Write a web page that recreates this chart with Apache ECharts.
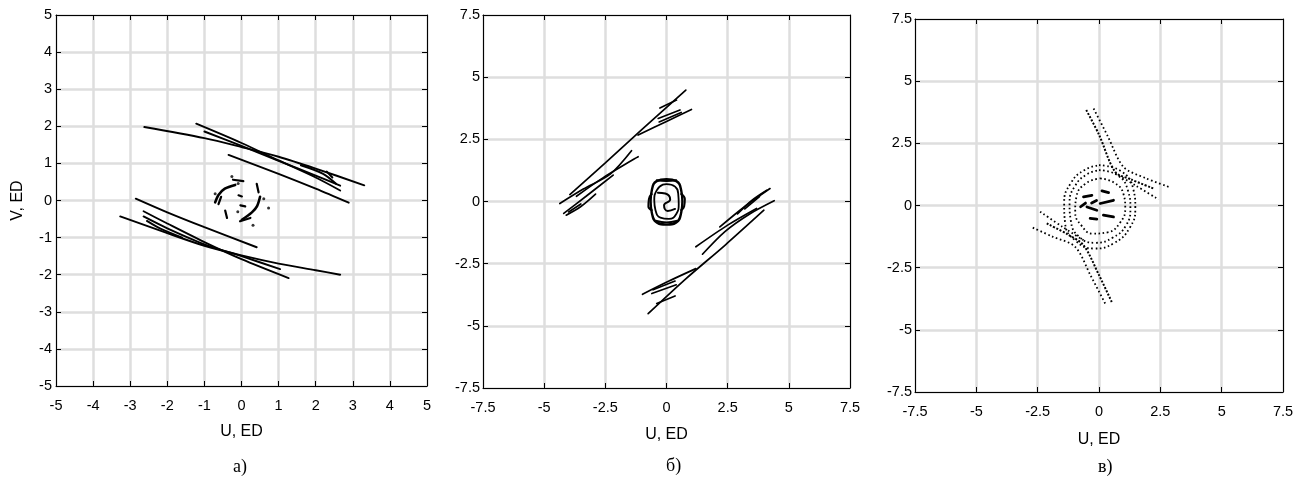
<!DOCTYPE html>
<html><head><meta charset="utf-8">
<script src="https://cdn.jsdelivr.net/npm/echarts@6/dist/echarts.min.js"></script>
<style>html,body{margin:0;padding:0;background:#fff}#c{width:1310px;height:481px}</style>
</head><body><div id="c"></div>
<script>
// ---------- Panel а) ----------
const aTicks = [-5,-4,-3,-2,-1,0,1,2,3,4,5];
const aUp1 = [[-2.62,1.98],[-1.0,1.68],[0,1.44],[1.0,1.18],[2.0,0.86],[3.31,0.41]];
const aUp2 = [[-1.22,2.07],[0,1.55],[1.0,1.08],[2.0,0.62],[2.66,0.27]];
const aUp3 = [[-1.0,1.86],[0,1.47],[1.0,1.07],[2.0,0.67],[2.66,0.40]];
const aUp4 = [[-0.35,1.23],[1.0,0.72],[2.0,0.32],[2.89,-0.06]];
const aUp5 = [[1.6,0.95],[2.2,0.72],[2.55,0.45]];
const aUp6 = [[2.3,0.78],[2.45,0.62]];
const aLo1 = [[-2.85,0.05],[-2.0,-0.32],[-1.0,-0.72],[0.41,-1.26]];
const aLo2 = [[-3.27,-0.43],[-2.0,-0.88],[-1.0,-1.22],[0,-1.48],[1.0,-1.70],[2.0,-1.88],[2.66,-2.0]];
const aLo3 = [[-2.64,-0.29],[-2.0,-0.62],[-1.0,-1.12],[0,-1.58],[1.27,-2.09]];
const aLo4 = [[-2.64,-0.43],[-2.0,-0.75],[-1.0,-1.18],[0,-1.5],[1.04,-1.85]];
const aLo5 = [[-2.55,-0.55],[-2.2,-0.75],[-1.6,-1.0]];
const aSw1 = [[-0.71,-0.05],[-0.62,0.15],[-0.45,0.32],[-0.17,0.42]];
const aSw2 = [[0.50,0.10],[0.42,-0.15],[0.28,-0.32],[0.01,-0.52]];
const aSw3 = [[0.41,0.45],[0.46,0.22]];
const aSw4 = [[-0.44,-0.27],[-0.39,-0.47]];
const aSw5 = [[-0.23,0.56],[0.05,0.52]];
const aSw6 = [[-0.04,-0.56],[0.24,-0.47]];
const aSw7 = [[-0.08,0.14],[0.01,0.11]];
const aSw8 = [[-0.03,-0.13],[0.10,-0.16]];
const aSw9 = [[-0.62,-0.1],[-0.55,0.1]];
const aDots = [[-0.26,0.65],[-0.71,0.18],[0.73,-0.2],[0.31,-0.67],[-0.09,0.46],[-0.1,-0.3],[0.6,0.05]];

// ---------- Panel б) ----------
const bTicks = [-7.5,-5,-2.5,0,2.5,5,7.5];
const bUL1 = [[-3.95,0.28],[-2.5,1.55],[-1.0,2.9],[0.79,4.48]];
const bUL2 = [[-4.36,-0.08],[-3.4,0.5],[-2.3,1.1],[-1.43,2.04]];
const bUL3 = [[-3.68,0.21],[-2.6,0.95],[-1.16,1.80]];
const bUL4 = [[-4.2,-0.48],[-3.3,0.2],[-2.18,1.06]];
const bUL5 = [[-4.1,-0.55],[-3.5,-0.2],[-2.9,0.3]];
const bUL6 = [[-4.0,-0.42],[-3.5,-0.1]];
const bUL7 = [[-1.16,2.67],[0,3.22],[1.02,3.70]];
const bUL8 = [[-0.34,3.34],[0.55,3.68]];
const bUL9 = [[-0.30,3.20],[0.60,3.58]];
const bUL10 = [[-0.27,3.76],[0.41,4.08]];
const bLR1 = [[-0.75,-4.51],[0.8,-3.1],[2.4,-1.75],[3.98,-0.35]];
const bLR2 = [[1.47,-2.12],[2.4,-1.2],[3.4,-0.5],[4.40,0.03]];
const bLR3 = [[1.2,-1.82],[2.5,-0.95],[3.68,-0.28]];
const bLR4 = [[2.18,-1.02],[3.2,-0.2],[4.23,0.52]];
const bLR5 = [[2.9,-0.5],[3.5,0.05],[4.1,0.45]];
const bLR6 = [[3.2,-0.3],[3.8,0.2]];
const bLR7 = [[-0.98,-3.73],[0.1,-3.2],[1.2,-2.70]];
const bLR8 = [[-0.55,-3.55],[0.35,-3.2]];
const bLR9 = [[-0.6,-3.7],[0.4,-3.35]];
const bLR10 = [[-0.40,-4.1],[0.35,-3.8]];
const bRing1 = [[0,0.9],[0.4,0.82],[0.6,0.45],[0.65,0],[0.6,-0.45],[0.4,-0.84],[0,-0.93],[-0.4,-0.84],[-0.6,-0.45],[-0.65,0],[-0.6,0.45],[-0.4,0.82],[0,0.9]];
const bRing2 = [[0,0.7],[0.35,0.6],[0.48,0.3],[0.5,-0.1],[0.4,-0.5],[0.1,-0.7],[-0.25,-0.65],[-0.45,-0.35],[-0.5,0.05],[-0.4,0.45],[-0.15,0.68],[0,0.7]];
const bS = [[-0.35,0.35],[-0.05,0.32],[0.15,0.08],[-0.1,-0.15],[0.05,-0.38],[0.35,-0.3]];
const bEarR = [[0.6,0.3],[0.75,0.1],[0.72,-0.2],[0.6,-0.35]];
const bEarL = [[-0.6,0.3],[-0.72,0.1],[-0.74,-0.2],[-0.6,-0.35]];
const bTop = [[-0.4,0.85],[0,0.82],[0.4,0.85]];
const bBot = [[-0.4,-0.78],[0,-0.84],[0.4,-0.78]];

// ---------- Panel в) ----------
const cTicks = [-7.5,-5,-2.5,0,2.5,5,7.5];
const cUp1 = [[-0.52,3.84],[0,2.85],[0.66,1.35],[1.3,1.05],[2.23,0.68]];
const cUp2 = [[-0.22,3.90],[0.35,2.8],[1.0,1.55],[1.9,1.1],[2.84,0.75]];
const cUp3 = [[0.66,1.29],[1.5,0.8],[2.43,0.24]];
const cLo1 = [[0.52,-3.88],[0,-2.8],[-0.63,-1.60],[-1.3,-1.15],[-2.13,-0.72]];
const cLo2 = [[0.25,-3.94],[-0.35,-2.8],[-0.97,-1.66],[-1.9,-1.25],[-2.77,-0.86]];
const cLo3 = [[-2.4,-0.25],[-1.5,-0.85],[-0.63,-1.40]];
const cRing1 = [[0,1.62],[0.9,1.38],[1.4,0.65],[1.48,-0.1],[1.25,-0.9],[0.6,-1.52],[-0.2,-1.73],[-0.95,-1.42],[-1.38,-0.72],[-1.42,0.1],[-1.15,0.9],[-0.6,1.42],[0,1.62]];
const cRing2 = [[0,1.42],[0.75,1.22],[1.18,0.6],[1.28,-0.1],[1.1,-0.8],[0.55,-1.3],[-0.15,-1.5],[-0.82,-1.25],[-1.15,-0.6],[-1.2,0.1],[-0.98,0.78],[-0.5,1.25],[0,1.42]];
const cRing3 = [[0.05,1.09],[0.65,0.9],[1.0,0.45],[1.07,-0.1],[0.85,-0.7],[0.35,-1.08],[-0.25,-1.13],[-0.72,-0.8],[-0.97,-0.25],[-0.92,0.35],[-0.55,0.88],[0.05,1.09]];
const cD1 = [[-0.63,0.35],[-0.29,0.41]];
const cD2 = [[0.12,0.59],[0.39,0.52]];
const cD3 = [[-0.49,-0.06],[-0.09,-0.19]];
const cD4 = [[0.05,0.08],[0.59,0.21]];
const cD5 = [[-0.36,-0.52],[-0.09,-0.55]];
const cD6 = [[0.18,-0.39],[0.59,-0.46]];
const cD7 = [[-0.75,-0.05],[-0.55,0.1]];
const cD8 = [[-0.3,0.1],[-0.1,0.2]];

const FONT = 'Liberation Sans';
function axesFor(g, ticks, xname, yname, nameGapX, ymargin) {
  const min = ticks[0], max = ticks[ticks.length-1], iv = ticks[1]-ticks[0];
  const base = {type:'value', gridIndex:g, min, max, interval:iv,
    axisLine:{show:true,onZero:false,lineStyle:{color:'#000',width:1}},
    axisTick:{show:true,inside:true,length:5,lineStyle:{color:'#000'}}};
  const labX = {show:true,color:'#000',fontSize:14.5,fontFamily:FONT,margin:12};
  const labY = {show:true,color:'#000',fontSize:14.5,fontFamily:FONT,margin:ymargin};
  const split = {show:true,lineStyle:{color:'#dedede',width:2.5}};
  return {
    x:[Object.assign({}, base, {position:'bottom',axisLabel:labX,splitLine:split,
         name:xname,nameLocation:'middle',nameGap:nameGapX,
         nameTextStyle:{color:'#000',fontSize:16,fontFamily:FONT}}),
       Object.assign({}, base, {position:'top',axisLabel:{show:false},splitLine:{show:false}})],
    y:[Object.assign({}, base, {position:'left',axisLabel:labY,splitLine:split,
         name:yname,nameLocation:'middle',nameGap:30,
         nameTextStyle:{color:'#000',fontSize:16,fontFamily:FONT}}),
       Object.assign({}, base, {position:'right',axisLabel:{show:false},splitLine:{show:false}})]
  };
}
const A = axesFor(0, aTicks, 'U, ED', 'V, ED', 38, 4);
const B = axesFor(1, bTicks, 'U, ED', '', 39, 3);
const C = axesFor(2, cTicks, 'U, ED', '', 40, 3);
const xAxis = [...A.x, ...B.x, ...C.x];
const yAxis = [...A.y, ...B.y, ...C.y];

const series = [];
function ln(data, g, opt) {
  opt = opt || {};
  series.push({type:'line', xAxisIndex:g*2, yAxisIndex:g*2, data, showSymbol:false, symbol:'none',
    smooth: opt.smooth === undefined ? 0.3 : opt.smooth, silent:true, animation:false, z:5,
    lineStyle:{color:'#000', width: opt.w || 1.8, type: opt.type || 'solid', cap: opt.cap || 'round'}});
}
[aUp1,aUp2,aUp3,aUp4,aUp5,aUp6,aLo1,aLo2,aLo3,aLo4,aLo5].forEach(d=>ln(d,0,{w:1.9}));
[aSw1,aSw2].forEach(d=>ln(d,0,{w:2.6}));
[aSw3,aSw4,aSw5,aSw6,aSw7,aSw8,aSw9].forEach(d=>ln(d,0,{w:2.2}));
series.push({type:'scatter', xAxisIndex:0, yAxisIndex:0, data:aDots, symbol:'circle', symbolSize:3,
  itemStyle:{color:'#000'}, silent:true, animation:false});

[bUL1,bUL2,bUL3,bUL4,bUL5,bUL6,bUL7,bUL8,bUL9,bUL10,bLR1,bLR2,bLR3,bLR4,bLR5,bLR6,bLR7,bLR8,bLR9,bLR10].forEach(d=>ln(d,1,{w:1.7}));
ln(bRing1,1,{w:2.4,smooth:0.5});
ln(bRing2,1,{w:1.8,smooth:0.5});
[bS,bEarR,bEarL,bTop,bBot].forEach(d=>ln(d,1,{w:2.0,smooth:0.5}));

const dot = [1.6,2.6];
[cUp2,cUp3,cLo2,cLo3].forEach(d=>ln(d,2,{w:1.8,type:dot,cap:'butt'}));
[cUp1,cLo1].forEach(d=>ln(d,2,{w:2.0,type:[2,1.6],cap:'butt'}));
[cRing1,cRing2,cRing3].forEach(d=>ln(d,2,{w:1.8,type:dot,cap:'butt',smooth:0.5}));
[cD1,cD2,cD3,cD4,cD5,cD6,cD7,cD8].forEach(d=>ln(d,2,{w:2.8,smooth:0}));

const option = {
  backgroundColor:'#fff',
  animation:false,
  grid:[
    {left:56, top:15, width:371, height:371},
    {left:483, top:15, width:367, height:373},
    {left:915, top:19, width:368, height:373}
  ],
  xAxis, yAxis, series,
  graphic:[
    {type:'text', left:233, top:458, style:{text:'а)', font:'18px "Liberation Serif"', fill:'#000'}},
    {type:'text', left:666, top:457, style:{text:'б)', font:'18px "Liberation Serif"', fill:'#000'}},
    {type:'text', left:1098, top:458, style:{text:'в)', font:'18px "Liberation Serif"', fill:'#000'}}
  ]
};
const chart = echarts.init(document.getElementById('c'), null, {renderer:'canvas'});
chart.setOption(option);
</script></body></html>
